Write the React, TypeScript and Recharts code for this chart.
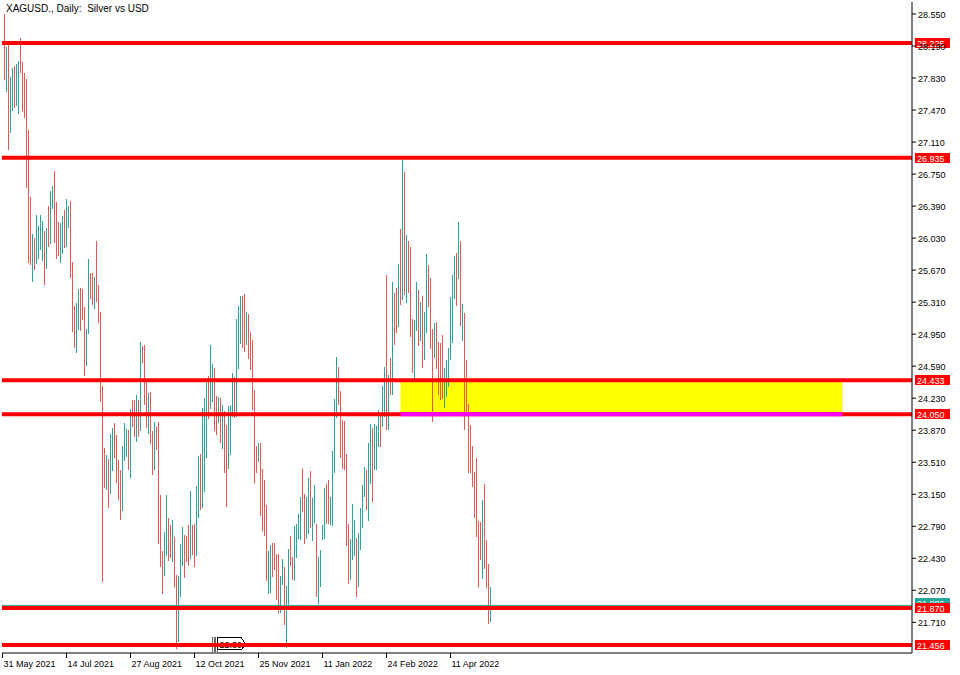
import React from 'react';
import { ComposedChart, Bar, XAxis, YAxis, ReferenceLine, ReferenceArea, ReferenceDot } from 'recharts';

// daily candles (each bar is only a 1px high-low stroke)
const highs = [
  28.55, 28.18, 28.22, 27.84, 27.94, 27.97, 27.99, 28.02, 28.28, 28.01,
  27.89, 27.82, 27.25, 26.49, 26.08, 26.03, 26.29, 26.17, 26.29, 26.22,
  26.11, 26.14, 26.39, 26.56, 26.62, 26.78, 26.44, 26.21, 26.2, 26.28,
  26.35, 26.47, 26.39, 26.45, 25.76, 25.27, 25.3, 25.46, 25.47, 25.46,
  25.26, 25.01, 25.8, 25.64, 25.64, 25.59, 26.0, 25.5, 25.2, 24.37,
  23.67, 23.59, 23.55, 23.83, 23.9, 23.95, 23.82, 23.54, 23.42, 23.69,
  23.95, 23.88, 23.87, 24.11, 24.21, 24.21, 24.27, 24.21, 24.86, 24.82,
  24.83, 24.42, 24.29, 24.3, 23.86, 23.96, 23.91, 23.96, 23.14, 22.51,
  22.72, 23.14, 22.88, 22.8, 22.86, 22.67, 22.24, 22.23, 22.59, 22.78,
  22.69, 22.68, 22.8, 23.19, 22.8, 22.82, 23.24, 23.58, 23.6, 24.12,
  24.23, 24.41, 24.48, 24.83, 24.62, 24.57, 24.26, 24.24, 24.23, 24.15,
  24.09, 23.93, 24.14, 24.15, 24.51, 24.47, 25.12, 25.27, 25.38, 25.38,
  25.4, 25.2, 25.18, 24.98, 24.89, 24.32, 23.69, 23.73, 23.73, 23.43,
  23.31, 23.03, 22.51, 22.58, 22.6, 22.6, 22.48, 22.48, 22.23, 22.42,
  22.33, 22.12, 22.53, 22.68, 22.44, 22.79, 22.82, 22.93, 23.12, 23.43,
  23.15, 23.12, 23.33, 23.41, 23.11, 23.25, 22.82, 22.44, 22.52, 22.8,
  23.22, 23.26, 23.31, 23.12, 23.64, 24.22, 24.69, 24.58, 24.31, 23.99,
  23.97, 23.6, 22.81, 22.65, 23.04, 22.86, 22.66, 22.71, 23.0, 23.25,
  23.46, 23.42, 23.73, 23.94, 23.89, 23.94, 23.92, 24.1, 24.04, 24.37,
  24.58, 25.62, 24.49, 24.68, 25.54, 25.41, 25.47, 25.74, 26.13, 26.91,
  26.77, 26.07, 26.0, 25.93, 25.12, 25.11, 25.54, 25.45, 25.31, 25.38,
  25.2, 25.85, 25.73, 25.58, 25.01, 25.07, 25.09, 24.86, 24.85, 24.94,
  24.57, 24.66, 24.8, 25.37, 25.61, 25.83, 25.86, 26.21, 26.0, 25.29,
  25.19, 24.66, 24.17, 23.93, 23.69, 23.4, 23.56, 22.85, 22.84, 23.09,
  23.27, 22.64, 22.37, 22.11,
];

const lows = [
  27.81, 27.67, 27.02, 27.21, 27.46, 27.49, 27.52, 27.43, 27.89, 27.45,
  27.38, 26.59, 25.75, 25.73, 25.54, 25.67, 25.74, 25.8, 25.9, 25.77,
  25.5, 25.68, 25.93, 25.96, 26.36, 25.97, 25.8, 25.83, 25.75, 25.85,
  25.92, 25.93, 26.14, 25.58, 24.98, 24.8, 24.74, 25.0, 24.99, 25.11,
  24.48, 24.59, 24.95, 25.34, 25.28, 25.23, 25.31, 25.07, 24.19, 22.16,
  23.22, 23.2, 22.99, 23.15, 23.41, 23.56, 23.28, 23.09, 22.86, 22.96,
  23.52, 23.57, 23.42, 23.33, 23.91, 23.79, 23.74, 23.79, 23.86, 24.63,
  24.15, 23.9, 23.83, 23.71, 23.37, 23.42, 23.65, 22.59, 22.33, 22.03,
  22.23, 22.46, 22.4, 22.43, 22.39, 22.11, 21.41, 21.49, 21.99, 22.34,
  22.21, 22.39, 22.34, 22.42, 22.47, 22.33, 22.46, 22.88, 22.97, 23.0,
  23.18, 23.56, 24.0, 24.11, 24.19, 23.86, 23.82, 23.95, 23.73, 23.66,
  23.39, 23.01, 23.43, 23.59, 24.02, 24.01, 24.02, 24.56, 24.84, 24.8,
  24.75, 24.83, 24.67, 24.55, 24.1, 23.28, 23.39, 23.51, 22.91, 22.74,
  22.68, 22.17, 22.03, 22.04, 22.22, 22.3, 21.96, 21.81, 21.81, 22.13,
  21.68, 21.42, 21.9, 22.34, 22.19, 22.17, 22.43, 22.65, 22.64, 22.95,
  22.59, 22.65, 22.7, 22.77, 22.62, 22.83, 21.99, 21.92, 22.11, 22.64,
  22.65, 22.82, 22.81, 22.8, 22.79, 23.39, 24.01, 24.15, 23.56, 23.43,
  23.42, 22.57, 22.14, 22.19, 22.41, 22.46, 21.99, 22.11, 22.52, 22.77,
  23.12, 22.97, 22.85, 23.27, 23.06, 23.42, 23.42, 23.68, 23.68, 23.91,
  24.02, 23.87, 23.87, 24.27, 24.27, 24.83, 24.96, 25.03, 25.28, 25.33,
  25.39, 25.3, 25.41, 24.92, 24.51, 24.44, 24.99, 24.82, 24.87, 24.57,
  24.66, 24.96, 25.25, 24.78, 23.96, 24.68, 24.56, 24.27, 24.21, 24.22,
  24.12, 24.24, 24.36, 24.66, 24.85, 25.34, 25.27, 25.57, 25.04, 24.87,
  23.87, 24.08, 23.39, 23.39, 23.23, 22.88, 22.67, 22.11, 22.41, 22.2,
  22.31, 22.1, 21.69, 21.71,
];

// 1 = closed up (teal), 0 = closed down (red)
const bullish = [
  0, 1, 0, 1, 1, 0, 1, 1, 0, 0,
  0, 0, 0, 0, 1, 0, 1, 1, 1, 1,
  0, 1, 0, 1, 1, 0, 0, 0, 1, 1,
  0, 1, 1, 0, 0, 0, 1, 1, 0, 0,
  0, 1, 1, 0, 0, 1, 0, 0, 0, 0,
  0, 1, 0, 1, 1, 0, 0, 0, 0, 1,
  1, 1, 0, 1, 0, 0, 1, 0, 1, 0,
  0, 0, 1, 0, 0, 1, 0, 0, 0, 0,
  1, 1, 0, 0, 1, 0, 0, 1, 1, 1,
  0, 0, 0, 1, 0, 0, 1, 1, 0, 1,
  1, 1, 0, 1, 1, 0, 0, 1, 0, 1,
  0, 0, 1, 1, 1, 0, 1, 1, 1, 0,
  0, 1, 0, 0, 0, 0, 0, 1, 0, 0,
  0, 0, 1, 1, 0, 0, 0, 0, 1, 1,
  0, 1, 1, 0, 0, 1, 1, 1, 1, 0,
  0, 1, 1, 0, 1, 1, 0, 1, 1, 1,
  1, 0, 0, 1, 1, 1, 1, 0, 0, 0,
  0, 0, 0, 1, 1, 1, 0, 1, 1, 1,
  1, 0, 1, 1, 0, 1, 1, 1, 0, 1,
  1, 0, 1, 0, 1, 0, 0, 1, 0, 1,
  0, 1, 0, 0, 0, 1, 1, 0, 1, 0,
  1, 1, 0, 0, 0, 1, 0, 0, 0, 0,
  1, 1, 1, 1, 1, 1, 0, 1, 0, 1,
  0, 0, 0, 0, 0, 0, 0, 0, 0, 1,
  0, 0, 0, 1,
];

const dateTickIndex = [-1, 31, 63, 95, 127, 159, 191, 223];
const dateTickLabels = ['31 May 2021', '14 Jul 2021', '27 Aug 2021', '12 Oct 2021', '25 Nov 2021', '11 Jan 2022', '24 Feb 2022', '11 Apr 2022'];

const priceTicks = [28.55, 28.19, 27.83, 27.47, 27.11, 26.75, 26.39, 26.03, 25.67, 25.31, 24.95, 24.59, 24.23, 23.87, 23.51, 23.15, 22.79, 22.43, 22.07, 21.71];
const levels = [28.225, 26.935, 24.433, 24.05, 21.87, 21.456];

const zoneTop = 24.433;
const zoneBottom = 24.05;
const zoneFrom = 198;
const zoneTo = 419;

const bidPrice = 21.9;
const bidText = '21.886';

const markBar = 104;
const markPrice = 21.456;
const markText = '22.39';

const UP = '#26a69a';
const DOWN = '#ef5350';
const LEVEL = '#ff0000';
const FONT = '"Liberation Sans", Arial, sans-serif';

const candles = highs.map((h, i) => ({ i, range: [lows[i], h], up: bullish[i] === 1 }));

const Candle = (props: any) => {
  const { x, y, width, height, payload } = props;
  if (height == null || isNaN(y)) return null;
  const cx = Math.floor(x + width / 2);
  const top = Math.round(y);
  const h = Math.max(1, Math.round(y + height) - top);
  return <rect x={cx} y={top} width={1} height={h} fill={payload.up ? UP : DOWN} shapeRendering="crispEdges" />;
};

const PriceTick = (props: any) => {
  const { x, y, payload } = props;
  return (
    <text x={x} y={y + 4} fontSize={9} fontFamily={FONT} fill="#000">
      {payload.value.toFixed(3)}
    </text>
  );
};

const DateTick = (props: any) => {
  const { x, y, payload } = props;
  const k = dateTickIndex.indexOf(payload.value);
  return (
    <text x={x + 1} y={y + 9} fontSize={9} fontFamily={FONT} fill="#000">
      {dateTickLabels[k]}
    </text>
  );
};

const tag = (text: string, bg: string, dy = 0) => (props: any) => {
  const vb = props.viewBox || {};
  const right = vb.x + vb.width;
  const cy = vb.y + dy;
  return (
    <g>
      <rect x={right + 3} y={cy - 5} width={35} height={10} fill={bg} shapeRendering="crispEdges" />
      <text x={right + 5} y={cy + 4} fontSize={9} fontFamily={FONT} fill="#fff">
        {text}
      </text>
    </g>
  );
};

const Marker = (props: any) => {
  const { cx, cy } = props;
  if (cx == null) return null;
  return (
    <g shapeRendering="crispEdges">
      {[0, 1, 2, 3].map((k) => (
        <line key={k} x1={cx + k * 1.5} x2={cx + k * 1.5} y1={cy - 8} y2={cy + 7} stroke="#000" strokeWidth={0.6} />
      ))}
      <path d={`M${cx + 5},${cy - 7} H${cx + 29} L${cx + 33},${cy - 1} L${cx + 29},${cy + 5} H${cx + 5} Z`} fill="#fff" stroke="#000" strokeWidth={1} />
      <text x={cx + 7} y={cy + 3} fontSize={9} fontFamily={FONT} fill="#000">
        {markText}
      </text>
    </g>
  );
};

export default function App() {
  return (
    <div style={{ position: 'fixed', left: 0, top: 0, width: 960, height: 675, background: '#fff' }}>
      <ComposedChart width={960} height={675} data={candles} margin={{ top: 2, right: 0, left: 2, bottom: 0 }}>
        <XAxis
          dataKey="i"
          type="number"
          domain={[-1.25, 453.75]}
          ticks={dateTickIndex}
          tick={<DateTick />}
          tickSize={5}
          tickMargin={0}
          height={22}
          interval={0}
          allowDataOverflow
          axisLine={{ stroke: '#000' }}
          tickLine={{ stroke: '#000' }}
        />
        <XAxis xAxisId="frame" orientation="top" type="number" domain={[0, 1]} height={0} tick={false} tickLine={false} axisLine={{ stroke: '#000' }} />
        <YAxis yAxisId="frame" orientation="left" domain={[0, 1]} width={0} tick={false} tickLine={false} axisLine={{ stroke: '#000' }} />
        <YAxis
          orientation="right"
          type="number"
          domain={[21.365, 28.685]}
          ticks={priceTicks}
          tick={<PriceTick />}
          tickSize={4}
          tickMargin={2}
          width={48}
          interval={0}
          allowDataOverflow
          axisLine={{ stroke: '#000' }}
          tickLine={{ stroke: '#000' }}
        />

        <ReferenceArea x1={zoneFrom} x2={zoneTo} y1={zoneBottom} y2={zoneTop} fill="#ffff00" fillOpacity={1} stroke="none" ifOverflow="visible" />

        <Bar dataKey="range" barSize={1} shape={<Candle />} isAnimationActive={false} />

        <ReferenceDot x={markBar} y={markPrice} r={0} shape={<Marker />} ifOverflow="visible" zIndex={350} />

        <ReferenceLine y={bidPrice} stroke={UP} strokeWidth={1} label={tag(bidText, UP, -2)} />
        {levels.map((v) => (
          <ReferenceLine key={v} y={v} stroke={LEVEL} strokeWidth={4} label={tag(v.toFixed(3), LEVEL)} />
        ))}
        <ReferenceLine
          segment={[{ x: zoneFrom, y: zoneBottom }, { x: zoneTo, y: zoneBottom }]}
          stroke="#ff00ff"
          strokeWidth={4}
        />
      </ComposedChart>
      <div
        style={{
          position: 'absolute',
          left: 6,
          top: 3,
          fontFamily: FONT,
          fontSize: 10,
          whiteSpace: 'pre',
          color: '#000',
        }}
      >
        {'XAGUSD., Daily:  Silver vs USD'}
      </div>
    </div>
  );
}
